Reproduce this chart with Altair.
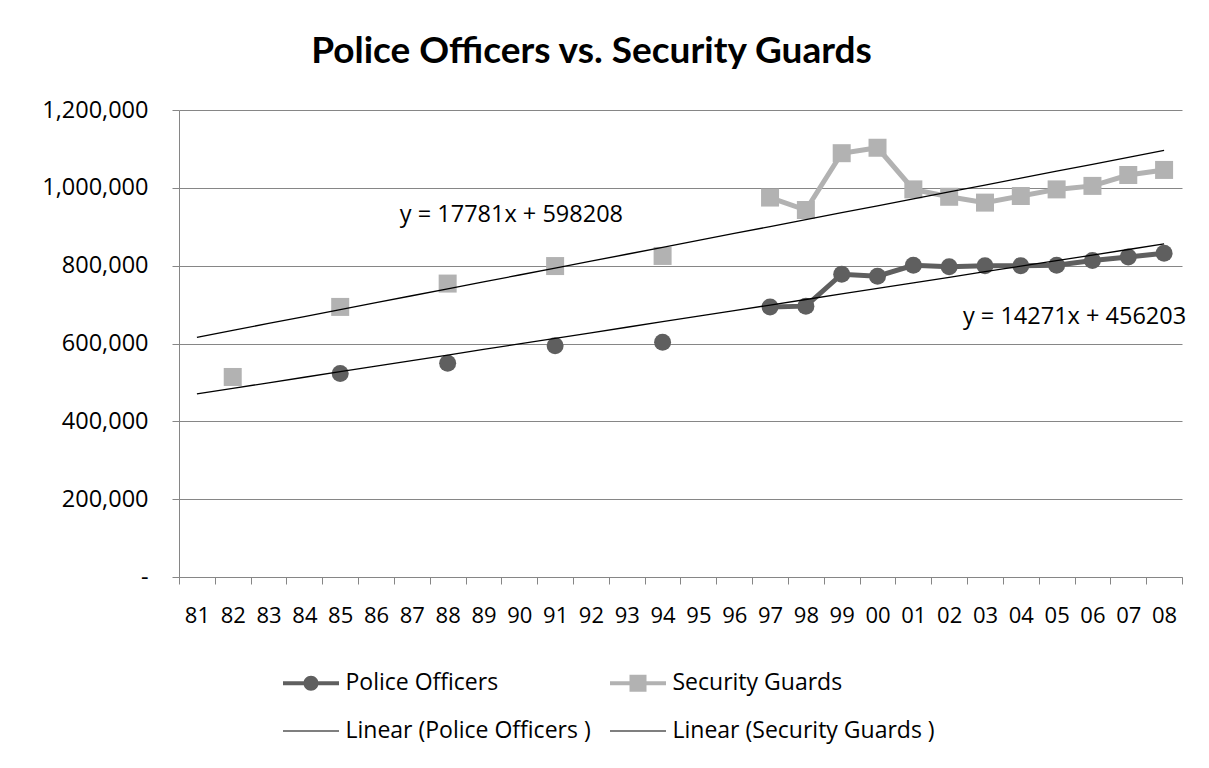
import altair as alt
import pandas as pd

# ---------------- data ----------------
years = ['81', '82', '83', '84', '85', '86', '87', '88', '89', '90',
         '91', '92', '93', '94', '95', '96', '97', '98', '99', '00',
         '01', '02', '03', '04', '05', '06', '07', '08']
police = [None, None, None, None, 523000, None, None, 549000, None, None,
          594000, None, None, 603000, None, None, 694000, 696000, 778000, 773000,
          801000, 797000, 800000, 800000, 801000, 813000, 822000, 832000]
guards = [None, 514000, None, None, 694000, None, None, 754000, None, None,
          799000, None, None, 825000, None, None, 975000, 943000, 1089000, 1103000,
          996000, 977000, 962000, 979000, 996000, 1005000, 1033000, 1046000]
# Excel linear trendlines (x = category index 1..28), as printed on the chart
po_slope, po_intercept = 14271, 456203
sg_slope, sg_intercept = 17781, 598208
y_ticks = [0, 200000, 400000, 600000, 800000, 1000000, 1200000]
legend_labels = ['Police Officers', 'Security Guards',
                 'Linear (Police Officers )', 'Linear (Security Guards )']
title_text = 'Police Officers vs. Security Guards'
po_eq = 'y = 14271x + 456203'
sg_eq = 'y = 17781x + 598208'

# ---------------- styling ----------------
FONT = 'Open Sans'
TITLE_FONT = 'Lato'
PO_COLOR = '#5f5f5f'
SG_COLOR = '#b2b2b2'
GRID = '#868686'

df = pd.DataFrame({'year': years, 'police': police, 'guards': guards})
idx = list(range(1, len(years) + 1))
trend = pd.DataFrame({
    'year': years,
    'po_trend': [po_slope * i + po_intercept for i in idx],
    'sg_trend': [sg_slope * i + sg_intercept for i in idx],
})

x_scale = alt.Scale(type='band', domain=years, paddingInner=0, paddingOuter=0)
y_scale = alt.Scale(domain=[0, 1200000], nice=False)

x_axis = alt.Axis(labelAngle=0, tickBand='extent', tickSize=7, tickColor=GRID,
                  domainColor=GRID, labelPadding=21, labelFont=FONT,
                  labelFontSize=22, labelColor='black', title=None, grid=False)
y_axis = alt.Axis(values=y_ticks, grid=True, gridColor=GRID, gridWidth=1,
                  domainColor=GRID, tickColor=GRID, tickSize=7, labelPadding=24,
                  labelFont=FONT, labelFontSize=23.5, labelColor='black',
                  title=None,
                  labelExpr="datum.value == 0 ? '-' : format(datum.value, ',')")

def X():
    return alt.X('year:O', sort=years, scale=x_scale, axis=x_axis)

base = alt.Chart(df)

po_line = base.mark_line(color=PO_COLOR, strokeWidth=5,
                         invalid='break-paths-show-domains').encode(
    x=X(), y=alt.Y('police:Q', scale=y_scale, axis=y_axis))
sg_line = base.mark_line(color=SG_COLOR, strokeWidth=5,
                         invalid='break-paths-show-domains').encode(
    x=X(), y=alt.Y('guards:Q', scale=y_scale, axis=y_axis))
po_pts = base.transform_filter('isValid(datum.police)').mark_point(
    shape='circle', filled=True, color=PO_COLOR, size=289, opacity=1,
    strokeWidth=0).encode(x=X(), y=alt.Y('police:Q', scale=y_scale, axis=y_axis))
sg_pts = base.transform_filter('isValid(datum.guards)').mark_point(
    shape='square', filled=True, color=SG_COLOR, size=324, opacity=1,
    strokeWidth=0).encode(x=X(), y=alt.Y('guards:Q', scale=y_scale, axis=y_axis))

po_tr = alt.Chart(trend).mark_line(color='black', strokeWidth=1.3).encode(
    x=X(), y=alt.Y('po_trend:Q', scale=y_scale, axis=y_axis))
sg_tr = alt.Chart(trend).mark_line(color='black', strokeWidth=1.3).encode(
    x=X(), y=alt.Y('sg_trend:Q', scale=y_scale, axis=y_axis))

# trendline equations, anchored in data space
eq_df = pd.DataFrame({'label': [sg_eq, po_eq], 'year': ['87', '03'],
                      'value': [930000, 668000]})
eq_sg = alt.Chart(eq_df).transform_filter(alt.datum.year == '87').mark_text(
    align='left', baseline='middle', font=FONT, fontSize=23.5, color='black',
    dx=-12).encode(x=X(), y=alt.Y('value:Q', scale=y_scale, axis=y_axis),
                   text='label:N')
eq_po = alt.Chart(eq_df).transform_filter(alt.datum.year == '03').mark_text(
    align='left', baseline='middle', font=FONT, fontSize=23.5, color='black',
    dx=-22).encode(x=X(), y=alt.Y('value:Q', scale=y_scale, axis=y_axis),
                   text='label:N')

# legend layer (no marks drawn, only the legend)
path_po = ('M-5.6,-0.4H5.6V0.4H-5.6Z '
           'M-1.5,0A1.5 1.5 0 1 1 1.5,0A1.5 1.5 0 1 1 -1.5,0Z')
path_sg = 'M-5.6,-0.4H5.6V0.4H-5.6Z M-1.7,-1.7H1.7V1.7H-1.7Z'
path_ln = 'M-5.6,-0.12H5.6V0.12H-5.6Z'
leg = alt.Legend(title=None, orient='none', legendX=120.5, legendY=561.5,
                 columns=2, direction='horizontal', symbolSize=100,
                 symbolStrokeWidth=0, labelFont=FONT, labelFontSize=23,
                 labelColor='black', labelLimit=500, labelOffset=23,
                 columnPadding=18, rowPadding=24, padding=0)
legend_df = pd.DataFrame({'series': legend_labels})
legend_layer = alt.Chart(legend_df).transform_filter('false').mark_point(
    filled=True, opacity=1).encode(
    color=alt.Color('series:N', scale=alt.Scale(
        domain=legend_labels, range=[PO_COLOR, SG_COLOR, 'black', 'black']),
        legend=leg),
    shape=alt.Shape('series:N', scale=alt.Scale(
        domain=legend_labels, range=[path_po, path_sg, path_ln, path_ln]),
        legend=leg),
)

chart = alt.layer(
    sg_line, po_line, sg_pts, po_pts, sg_tr, po_tr, eq_sg, eq_po, legend_layer
).properties(
    width=1003, height=467,
    padding={'left': 171, 'top': 102, 'right': 19, 'bottom': 170},
    autosize=alt.AutoSizeParams(type='none'),
    background='white',
    title=alt.TitleParams(title_text, font=TITLE_FONT, fontSize=37,
                          fontWeight='bold', color='black', anchor='middle',
                          frame='group', baseline='alphabetic', offset=3,
                          dx=-89, dy=5),
).configure_view(stroke=None)

chart.save('out.html', embed_options={'renderer': 'svg', 'actions': False})
